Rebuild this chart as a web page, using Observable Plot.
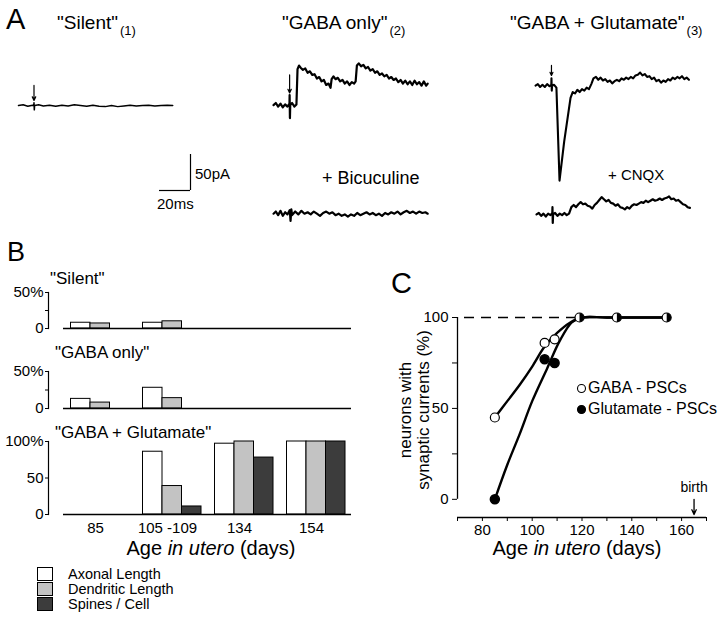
<!DOCTYPE html>
<html><head><meta charset="utf-8">
<script src="https://cdn.jsdelivr.net/npm/d3@7"></script>
<script src="https://cdn.jsdelivr.net/npm/@observablehq/plot@0.6"></script>
<style>
html,body{margin:0;padding:0;background:#fff;}
#fig{position:relative;width:720px;height:618px;overflow:hidden;font-family:"Liberation Sans",Arial,Helvetica,sans-serif;color:#000;background:#fff;}
.lbl{position:absolute;line-height:1;white-space:nowrap;}
.sub{font-size:13px;position:relative;top:6px;margin-left:2px;}
</style></head><body><div id="fig"></div>
<script>
// ================= DATA =================
// Panel A traces: [time (ms), current (pA)]
const traceSilent = [[0,0],[3,1],[6,-1],[9,0.5],[9.9,0],[10,4],[10.2,-6],[10.4,0],[13,1],[16,-0.5],[20,0.5],[24,-1],[28,0.5],[32,-0.5],[36,1],[40,0],[44,-1],[48,0.5],[52,-1],[56,-1.5],[60,0],[64,-1.5],[68,-0.5],[72,0.5],[76,-0.5],[80,0],[84,0.5],[88,-0.5],[92,0],[96,0.5],[99.5,0]];
const traceGabaOnly = [[0,0],[1.5,3],[3,-2],[4.5,2],[6,-3],[7.5,1],[9,-2],[10.3,2],[10.4,14],[10.6,-18],[10.8,0],[12,3],[13.5,-2],[14.8,1],[15.5,50],[16.5,55],[17.5,52],[19,49],[20.5,51],[22,45],[23.5,47],[25,42],[26.5,43],[28,37],[29.5,39],[31,33],[32.5,35],[34,28],[35.5,30],[36.8,24],[37.5,36],[38.7,40],[40,36],[41.5,38],[43,33],[44.5,35],[46,30],[47.5,33],[49,28],[50.5,32],[52,30],[53,33],[53.8,55],[55,58],[56.5,54],[58,56],[59.5,51],[61,53],[62.5,48],[64,50],[65.5,45],[67,47],[68.5,42],[70,44],[71.5,40],[73,42],[74.5,37],[76,39],[77.5,35],[79,37],[80.5,32],[82,35],[83.5,30],[85,34],[86.5,29],[88,33],[89.5,28],[91,34],[92.5,29],[94,32],[95.5,27],[97,33],[98.5,27],[99.5,30]];
const traceBicuculine = [[0,0],[1.5,3],[3,-2],[4.5,4],[6,-3],[7.5,2],[9,-1],[10.5,5],[11,-10],[11.5,6],[12,-2],[14,3],[16,-1],[18,4],[20,0],[22,2],[24,-1],[26,3],[28,0],[30,-3],[32,1],[34,3],[36,0],[38,2],[40,-2],[42,0],[44,-3],[46,-1],[48,-4],[50,-1],[52,-3],[54,1],[56,-2],[58,0],[60,2],[62,-1],[64,1],[66,-2],[68,0],[70,-3],[72,1],[74,-1],[76,2],[78,0],[80,3],[82,-1],[84,2],[86,4],[88,1],[90,3],[92,0],[94,3],[96,1],[98,2],[99.5,0]];
const traceGabaGlu = [[0,0],[1.5,2],[3,-2],[4.5,1],[6,-2],[7.5,2],[9,-1],[10.2,1],[10.3,10],[10.5,-7],[10.7,0],[12,1],[13.5,-3],[15.5,-132],[18.5,-78],[22.6,-17],[24,-9],[25.5,-11],[27,-6],[28.5,-9],[30,-5],[31.5,-7],[33,-3],[34.5,-5],[36,2],[37.4,10],[39,12],[40.5,8],[42,11],[43.5,7],[45,9],[46.5,5],[48,7],[49.5,3],[51,6],[52.5,8],[54,6],[55.5,10],[57,8],[58.5,11],[60,9],[61.5,12],[63,10],[64.5,14],[66,15],[67.5,18],[69,14],[70.5,16],[72,12],[73.5,13],[75,9],[76.5,11],[78,6],[79.5,8],[81,4],[82.5,7],[84,5],[85.5,9],[87,7],[88.5,11],[90,9],[91.5,12],[93,10],[94.5,13],[96,9],[97.5,11],[99,8]];
const traceCNQX = [[0,0],[1.5,2],[3,-2],[4.5,1],[6,-3],[7.5,1],[9,-1],[10.2,2],[10.3,10],[10.5,-12],[10.7,0],[12,2],[13.5,-2],[15,1],[16.5,-1],[18,2],[19.5,-1],[21,1],[22.5,10],[24,13],[25.5,10],[27,14],[28.5,17],[30,14],[31.5,15],[33,12],[34.5,11],[36,8],[37.5,13],[39,16],[40.5,20],[42,24],[43.5,21],[45,18],[46.5,20],[48,16],[49.5,15],[51,12],[52.5,14],[54,10],[55.5,9],[57,7],[58.5,10],[60,8],[61.5,12],[63,14],[64.5,13],[66,15],[67.5,17],[69,16],[70.5,19],[72,17],[73.5,19],[75,21],[76.5,19],[78,20],[79.5,22],[81,20],[82.5,22],[84,23],[85.5,25],[87,21],[88.5,22],[90,19],[91.5,20],[93,17],[94.5,14],[96,13],[97.5,10],[99,9]];
// stimulus arrows: time (ms), arrow top / tip (pA)
const stimSilent = {t: 10, from: 28, to: 7};
const stimGabaOnly = {t: 10.4, from: 42, to: 17};
const stimGabaGlu = {t: 10.3, from: 28, to: 14};
// scale bar
const scaleBarMs = 20, scaleBarPA = 50;

// Panel B
const ages = ["85", "105 -109", "134", "154"];
const measures = ["Axonal Length", "Dendritic Length", "Spines / Cell"];
const measureColors = ["#ffffff", "#c3c3c3", "#3c3c3c"];
const silentAxonal = [8, 8, 0, 0];
const silentDendritic = [7, 10, 0, 0];
const silentSpines = [0, 0, 0, 0];
const gabaOnlyAxonal = [13, 28, 0, 0];
const gabaOnlyDendritic = [8, 14, 0, 0];
const gabaOnlySpines = [0, 0, 0, 0];
const gluAxonal = [0, 86, 97, 100];
const gluDendritic = [0, 39, 100, 100];
const gluSpines = [0, 11, 78, 100];

// Panel C
const gabaAge = [85, 105, 109, 119, 134, 154];
const gabaPct = [45, 86, 88, 100, 100, 100];
const gluAge = [85, 105, 109, 119, 134, 154];
const gluPct = [0, 77, 75, 100, 100, 100];
const gabaFitAge = [85, 90, 95, 100, 105, 110, 115, 120, 130, 154];
const gabaFitPct = [45, 54, 63, 73, 84, 91.5, 97, 100, 100, 100];
const gluFitAge = [85, 90, 95, 100, 106, 111, 116, 120, 130, 154];
const gluFitPct = [0, 19, 36, 54, 72, 87, 97.5, 100, 100, 100];
const cXTicks = [70, 80, 90, 100, 110, 120, 130, 140, 150, 160, 170];
const cXLabels = [80, 100, 120, 140, 160];
const cYTicks = [0, 25, 50, 75, 100];
const cYLabels = [0, 50, 100];
const birthDay = 165;

// ================= LAYOUT =================
const fig = document.getElementById("fig");
const FONT = "Liberation Sans, Arial, Helvetica, sans-serif";
const baseStyle = {fontFamily: FONT, fontSize: "15px", color: "black", background: "transparent", overflow: "visible"};
function place(el, left, top) {
  el.style.position = "absolute"; el.style.left = left + "px"; el.style.top = top + "px";
  fig.append(el); return el;
}
function label(html, x, cy, fs, opts = {}) {
  const d = document.createElement("div");
  d.className = "lbl"; d.innerHTML = html;
  d.style.fontSize = fs + "px"; d.style.left = x + "px"; d.style.top = (cy - 0.49 * fs) + "px";
  if (opts.center) d.style.transform = "translateX(-50%)";
  if (opts.style) Object.assign(d.style, opts.style);
  fig.append(d); return d;
}

// ---------- Panel A ----------
const pxPerMs = 31 / scaleBarMs, pxPerPA = 36 / scaleBarPA;
function tracePlot(trace, stim, startX, baseY, sw) {
  const vals = trace.map(d => d[1]).concat(stim ? [stim.from, stim.to] : []);
  const hi = d3.max(vals) + 4;
  const mT = 2, mB = 2, mL = 10, mR = 10;
  const innerH = Math.ceil((hi - d3.min(vals) + 4) * pxPerPA);
  const lo = hi - innerH / pxPerPA;
  const svg = Plot.plot({
    width: 100 * pxPerMs + mL + mR, height: innerH + mT + mB,
    marginLeft: mL, marginRight: mR, marginTop: mT, marginBottom: mB,
    x: {domain: [0, 100], axis: null}, y: {domain: [lo, hi], axis: null},
    style: baseStyle,
    marks: [
      Plot.line(trace, {x: d => d[0], y: d => d[1], stroke: "black", strokeWidth: sw, strokeLinejoin: "round"}),
      stim ? Plot.arrow([stim], {x1: "t", x2: "t", y1: "from", y2: "to", stroke: "black", strokeWidth: 1.2, headLength: 5, headAngle: 50}) : null
    ]
  });
  place(svg, startX - mL, baseY - mT - hi * pxPerPA);
}
tracePlot(traceSilent, stimSilent, 18, 105, 1.5);
tracePlot(traceGabaOnly, stimGabaOnly, 273, 105, 2.2);
tracePlot(traceBicuculine, null, 273, 213, 2.2);
tracePlot(traceGabaGlu, stimGabaGlu, 535, 85, 2.1);
tracePlot(traceCNQX, null, 536, 214, 2.2);

// scale bar
{
  const svg = Plot.plot({
    width: scaleBarMs * pxPerMs + 20, height: scaleBarPA * pxPerPA + 8,
    marginLeft: 10, marginRight: 10, marginTop: 4, marginBottom: 4,
    x: {domain: [0, scaleBarMs], axis: null}, y: {domain: [0, scaleBarPA], axis: null},
    style: baseStyle,
    marks: [
      Plot.ruleY([0], {x1: 0, x2: scaleBarMs, strokeWidth: 1.2}),
      Plot.ruleX([scaleBarMs], {y1: 0, y2: scaleBarPA, strokeWidth: 1.2})
    ]
  });
  place(svg, 159 - 10, 154 - 4);
  label(scaleBarPA + "pA", 195, 173, 15);
  label(scaleBarMs + "ms", 157, 203, 15);
}

label("A", 6, 19, 29);
label('"Silent"<span class="sub">(1)</span>', 57, 22, 19);
label('"GABA only"<span class="sub">(2)</span>', 282, 22, 19);
label('"GABA + Glutamate"<span class="sub">(3)</span>', 510, 22, 19);
label("+ Bicuculine", 322, 178, 18);
label("+ CNQX", 608, 174, 15);

// ---------- Panel B ----------
const barW = 19.5, lead = 7.5;
function barPanel(axonal, dendritic, spines, yMax, ticks, fmt, svgTop, innerH, showX) {
  const rows = [];
  [axonal, dendritic, spines].forEach((arr, m) => arr.forEach((v, i) => rows.push({age: ages[i], measure: measures[m], m, value: v})));
  const mT = 8, mB = showX ? 23 : 4;
  const svg = Plot.plot({
    width: 360, height: innerH + mT + mB,
    marginLeft: 48, marginRight: 9, marginTop: mT, marginBottom: mB,
    x: {domain: ages, paddingInner: 0, paddingOuter: (303 / 72 - 4) / 2, align: 1, axis: null},
    y: {domain: [0, yMax], axis: null},
    style: baseStyle,
    marks: [
      Plot.frame({anchor: "left", strokeWidth: 1.2}),
      Plot.axisY({ticks, tickFormat: fmt, tickSize: 3, tickPadding: 2, label: null, fontSize: 15}),
      showX ? Plot.axisX({tickSize: 0, tickPadding: 8, label: null, fontSize: 15, dx: -4}) : null,
      ...measures.map((ms, m) => Plot.barY(rows.filter(r => r.m === m && r.value > 0), {
        x: "age", y: "value", fill: measureColors[m], stroke: "black", strokeWidth: 1,
        insetLeft: lead + barW * m, insetRight: 72 - lead - barW * (m + 1)
      })),
      Plot.ruleY([0], {insetLeft: 15, strokeWidth: 1.4})
    ]
  });
  place(svg, 0, svgTop);
}
barPanel(silentAxonal, silentDendritic, silentSpines, 50, [0, 25, 50], d => d === 50 ? "50%" : d === 0 ? "0" : "", 284, 36, false);
barPanel(gabaOnlyAxonal, gabaOnlyDendritic, gabaOnlySpines, 50, [0, 25, 50], d => d === 50 ? "50%" : d === 0 ? "0" : "", 363, 37, false);
barPanel(gluAxonal, gluDendritic, gluSpines, 100, [0, 50, 100], d => d === 100 ? "100%" : String(d), 433, 73, true);

label("B", 7, 252, 27);
label('"Silent"', 50, 278, 17);
label('"GABA only"', 55, 352, 17);
label('"GABA + Glutamate"', 55, 432, 17);
label('Age <i>in utero</i> (days)', 211, 548, 20, {center: true});
// legend
measures.forEach((ms, m) => {
  const sw = document.createElement("div");
  Object.assign(sw.style, {width: "16px", height: "14px", background: measureColors[m], border: "1px solid #000", boxSizing: "border-box"});
  place(sw, 37, 567 + m * 15);
  label(ms, 68, 574 + m * 15, 14.5);
});

// ---------- Panel C ----------
{
  const gaba = gabaAge.map((a, i) => ({age: a, pct: gabaPct[i]}));
  const glu = gluAge.map((a, i) => ({age: a, pct: gluPct[i]}));
  const both = gaba.filter((d, i) => gluAge[i] === d.age && gluPct[i] === d.pct);
  const gabaOnlyPts = gaba.filter(d => !both.includes(d));
  const gabaFit = gabaFitAge.map((a, i) => ({age: a, pct: gabaFitPct[i]}));
  const gluFit = gluFitAge.map((a, i) => ({age: a, pct: gluFitPct[i]}));
  const halfCircle = {draw(ctx, size) { const r = Math.sqrt(size / Math.PI); ctx.moveTo(0, -r); ctx.arc(0, 0, r, -Math.PI / 2, Math.PI / 2); ctx.closePath(); }};
  const xDom = [cXTicks[0], cXTicks[cXTicks.length - 1]];
  const yBottom = -10;
  const svg = Plot.plot({
    width: 340, height: 290, marginLeft: 77, marginRight: 14, marginTop: 37, marginBottom: 53,
    x: {domain: xDom, axis: null}, y: {domain: [yBottom, d3.max(cYTicks)], axis: null},
    style: baseStyle,
    marks: [
      Plot.ruleX([xDom[0]], {y1: d3.min(cYTicks), y2: d3.max(cYTicks), strokeWidth: 1.3}),
      Plot.ruleY([yBottom], {strokeWidth: 1.3}),
      Plot.axisY({ticks: cYTicks, tickFormat: d => cYLabels.includes(d) ? String(d) : "", tickSize: 5, tickPadding: 4, label: null, fontSize: 15}),
      Plot.axisX({ticks: cXTicks, tickFormat: d => cXLabels.includes(d) ? String(d) : "", tickSize: 4, tickPadding: 3, label: null, fontSize: 15}),
      Plot.ruleY([d3.max(cYTicks)], {x1: xDom[0], x2: 119, strokeDasharray: "10,7", strokeDashoffset: 10, strokeWidth: 1.3}),
      Plot.line(gabaFit, {x: "age", y: "pct", curve: "catmull-rom", strokeWidth: 2.4}),
      Plot.line(gluFit, {x: "age", y: "pct", curve: "catmull-rom", strokeWidth: 2.4}),
      Plot.dot(glu.filter(d => d.pct < 100), {x: "age", y: "pct", r: 4.5, fill: "black", stroke: "black"}),
      Plot.dot(gabaOnlyPts, {x: "age", y: "pct", r: 4.5, fill: "white", stroke: "black", strokeWidth: 1.2}),
      Plot.dot(both, {x: "age", y: "pct", r: 4.5, fill: "white", stroke: "black", strokeWidth: 1.2}),
      Plot.dot(both, {x: "age", y: "pct", r: 4.5, symbol: halfCircle, fill: "black"}),
      Plot.arrow([birthDay], {x1: d => d, x2: d => d, y1: 0, y2: yBottom, insetEnd: 3, headLength: 6, headAngle: 50, strokeWidth: 1.3}),
      Plot.text([birthDay], {x: d => d, y: 0, dy: -12, text: () => "birth", fontSize: 14})
    ]
  });
  place(svg, 380, 280);
}
label("C", 391, 283, 29);
label('Age <i>in utero</i> (days)', 577, 548, 20, {center: true});
{
  const yl = document.createElement("div");
  yl.innerHTML = "neurons with<br>synaptic currents (%)";
  Object.assign(yl.style, {position: "absolute", left: "415px", top: "410px", fontSize: "17px", lineHeight: "18px", textAlign: "center", whiteSpace: "nowrap", transform: "translate(-50%,-50%) rotate(-90deg)"});
  fig.append(yl);
}
// legend C
[["white", 388, "GABA - PSCs"], ["black", 409, "Glutamate - PSCs"]].forEach(([fill, cy, txt]) => {
  const s = document.createElementNS("http://www.w3.org/2000/svg", "svg");
  s.setAttribute("width", 11); s.setAttribute("height", 11);
  s.innerHTML = `<circle cx="5.5" cy="5.5" r="4" fill="${fill}" stroke="black" stroke-width="1.1"/>`;
  place(s, 576, cy - 5.5);
  label(txt, 588, cy, 16);
});
</script></body></html>
